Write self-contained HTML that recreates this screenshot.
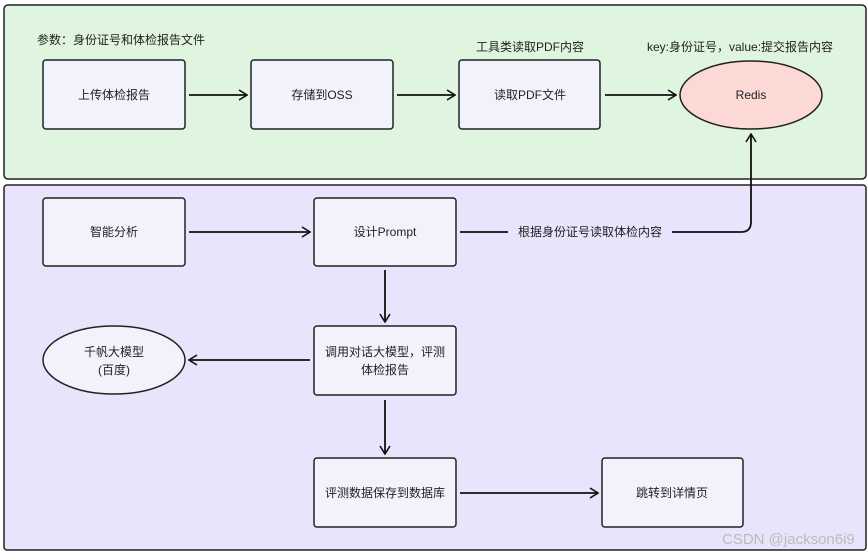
<!DOCTYPE html>
<html><head><meta charset="utf-8"><style>
body{margin:0;width:868px;height:552px;overflow:hidden;background:#fff;font-family:"Liberation Sans","Noto Sans CJK SC",sans-serif;}
</style></head><body>
<svg width="868" height="552" xmlns="http://www.w3.org/2000/svg" font-family="Liberation Sans, Noto Sans CJK SC, sans-serif" font-size="12" fill="#222">
<defs><marker id="a" markerWidth="10" markerHeight="12" refX="9" refY="6" orient="auto" markerUnits="userSpaceOnUse"><path d="M1,1 L9,6 L1,11" fill="none" stroke="#111" stroke-width="1.6"/></marker></defs>
<rect x="4" y="5" width="862" height="174" rx="4" fill="#e0f5df" stroke="#222" stroke-width="1.5"/>
<rect x="4" y="185" width="862" height="365" rx="3" fill="#e9e3fc" stroke="#222" stroke-width="1.5"/>
<g stroke="#222" stroke-width="1.5" fill="#f2f2fd">
<rect x="43" y="60" width="142" height="69" rx="3"/>
<rect x="251" y="60" width="142" height="69" rx="3"/>
<rect x="459" y="60" width="141" height="69" rx="3"/>
<ellipse cx="751" cy="95" rx="71" ry="34" fill="#fcd9d5"/>
<rect x="43" y="198" width="142" height="68" rx="3"/>
<rect x="314" y="198" width="142" height="68" rx="3"/>
<rect x="314" y="326" width="142" height="69" rx="3"/>
<ellipse cx="114" cy="360" rx="71" ry="34"/>
<rect x="314" y="458" width="142" height="69" rx="3"/>
<rect x="602" y="458" width="141" height="69" rx="3"/>
</g>
<g stroke="#111" stroke-width="1.8" fill="none" marker-end="url(#a)">
<line x1="189" y1="95" x2="247" y2="95"/>
<line x1="397" y1="95" x2="455" y2="95"/>
<line x1="605" y1="95" x2="676" y2="95"/>
<line x1="189" y1="232" x2="310" y2="232"/>
<path d="M672,232 L741,232 Q751,232 751,222 L751,134"/>
<line x1="385" y1="270" x2="385" y2="322"/>
<line x1="310" y1="360" x2="189" y2="360"/>
<line x1="385" y1="400" x2="385" y2="454"/>
<line x1="460" y1="493" x2="598" y2="493"/>
</g>
<line x1="460" y1="232" x2="508" y2="232" stroke="#111" stroke-width="1.8"/>
<g text-anchor="middle">
<text x="114" y="99">上传体检报告</text>
<text x="322" y="99">存储到OSS</text>
<text x="530" y="99">读取PDF文件</text>
<text x="751" y="99">Redis</text>
<text x="530" y="51">工具类读取PDF内容</text>
<text x="114" y="236">智能分析</text>
<text x="385" y="236">设计Prompt</text>
<text x="590" y="236">根据身份证号读取体检内容</text>
<text x="385" y="356">调用对话大模型，评测</text>
<text x="385" y="374">体检报告</text>
<text x="114" y="356">千帆大模型</text>
<text x="114" y="374">(百度)</text>
<text x="385" y="497">评测数据保存到数据库</text>
<text x="672" y="497">跳转到详情页</text>
</g>
<text x="37" y="44">参数：身份证号和体检报告文件</text>
<text x="647" y="51">key:身份证号，value:提交报告内容</text>
<text x="722" y="544" font-size="15" fill="#bbb">CSDN @jackson6i9</text>
</svg>
</body></html>
